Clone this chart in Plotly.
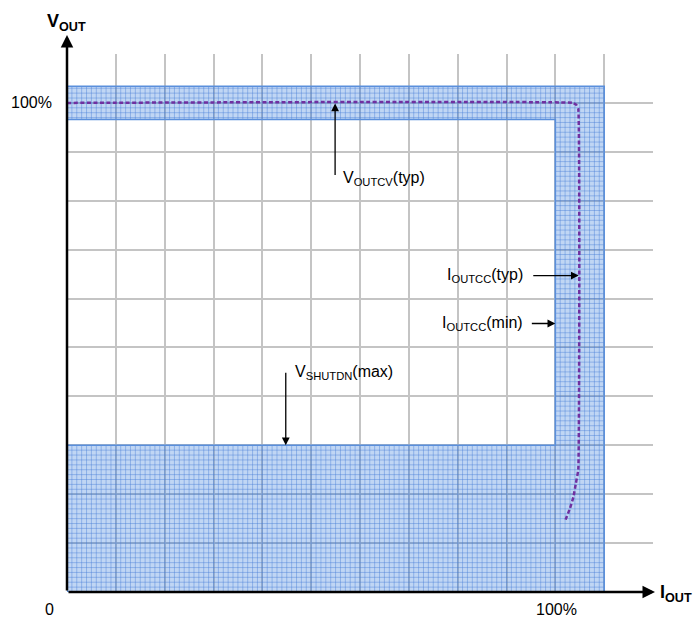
import plotly.graph_objects as go

# ---- data (percent of nominal) ----
x_range = [0, 120]
y_range = [0, 110]
grid_step = 10
minor_step = 1
x_tick_vals = [0, 100]
x_tick_text = ["0", "100%"]
y_tick_vals = [100]
y_tick_text = ["100%"]

VOUTCV_MIN, VOUTCV_MAX = 96.6, 103.4     # CV regulation band
IOUTCC_MIN, IOUTCC_MAX = 100, 110        # CC regulation band
VSHUTDN_MAX = 30                         # shutdown threshold

typ_x = [0, 103.5, 104.3, 104.7, 104.7, 104.2, 103.7, 103.0, 102.1]
typ_y = [100, 100, 99.6, 98.8, 25, 22.2, 19.4, 17.1, 14.8]

FONT = "Liberation Sans, Arial, sans-serif"

fig = go.Figure()

# region polygon
poly_x = [0, IOUTCC_MAX, IOUTCC_MAX, 0, 0, IOUTCC_MIN, IOUTCC_MIN, 0, 0]
poly_y = [0, 0, VOUTCV_MAX, VOUTCV_MAX, VOUTCV_MIN, VOUTCV_MIN, VSHUTDN_MAX, VSHUTDN_MAX, 0]
fig.add_trace(go.Scatter(x=poly_x, y=poly_y, mode="lines", fill="toself",
                         fillcolor="rgba(80,140,225,0.36)",
                         line=dict(color="rgba(0,0,0,0)", width=0),
                         hoverinfo="skip", showlegend=False))

# minor grid inside the region
mx, my = [], []
for k in range(1, int(IOUTCC_MAX / minor_step)):
    x = k * minor_step
    if x < IOUTCC_MIN:
        mx += [x, x, None, x, x, None]
        my += [0, VSHUTDN_MAX, None, VOUTCV_MIN, VOUTCV_MAX, None]
    else:
        mx += [x, x, None]
        my += [0, VOUTCV_MAX, None]
for k in range(1, int(VOUTCV_MAX / minor_step) + 1):
    y = k * minor_step
    if y <= VSHUTDN_MAX or y >= VOUTCV_MIN:
        mx += [0, IOUTCC_MAX, None]
    else:
        mx += [IOUTCC_MIN, IOUTCC_MAX, None]
    my += [y, y, None]
fig.add_trace(go.Scatter(x=mx, y=my, mode="lines",
                         line=dict(color="rgba(70,125,215,0.42)", width=1),
                         hoverinfo="skip", showlegend=False))

# region outline
fig.add_trace(go.Scatter(x=poly_x, y=poly_y, mode="lines",
                         line=dict(color="#5a8fdc", width=1.6),
                         hoverinfo="skip", showlegend=False))

# typical curve
fig.add_trace(go.Scatter(x=typ_x, y=typ_y, mode="lines",
                         line=dict(color="#7030a0", width=2.5, dash="4px,2.5px", shape="spline", smoothing=0.3),
                         hoverinfo="skip", showlegend=False))

ann = []
# axis arrows
ann.append(dict(x=0, y=y_range[1], xref="x", yref="y", yshift=19, ax=0, ay=557,
                text="", showarrow=True, arrowhead=2, arrowsize=1, arrowwidth=2.5,
                arrowcolor="black", standoff=0))
ann.append(dict(x=x_range[1], y=0, xref="x", yref="y", xshift=2, ax=-588, ay=0,
                text="", showarrow=True, arrowhead=2, arrowsize=1, arrowwidth=2.5,
                arrowcolor="black", standoff=0))
# axis titles
ann.append(dict(x=0, y=y_range[1], xref="x", yref="y", yshift=32, xshift=-1,
                text="<b>V<sub>OUT</sub></b>", showarrow=False,
                font=dict(family=FONT, size=18, color="black")))
ann.append(dict(x=x_range[1], y=0, xref="x", yref="y", xanchor="left", xshift=5, yshift=-1,
                text="<b>I<sub>OUT</sub></b>", showarrow=False,
                font=dict(family=FONT, size=18, color="black")))
# tick labels
ann.append(dict(x=x_tick_vals[0], y=0, xref="x", yref="y", xshift=-18, yshift=-17,
                text=x_tick_text[0], showarrow=False, borderpad=0,
                font=dict(family=FONT, size=16, color="black")))
ann.append(dict(x=x_tick_vals[1], y=0, xref="x", yref="y", xshift=1, yshift=-17,
                text=x_tick_text[1], showarrow=False, borderpad=0,
                font=dict(family=FONT, size=16, color="black")))
ann.append(dict(x=0, y=y_tick_vals[0], xref="x", yref="y", xanchor="right", xshift=-13,
                text=y_tick_text[0], showarrow=False, font=dict(family=FONT, size=16, color="black")))

# callout arrows
def arrow(x, y, ax, ay):
    return dict(x=x, y=y, xref="x", yref="y", ax=ax, ay=ay, text="", showarrow=True,
                arrowhead=2, arrowsize=1.2, arrowwidth=1.3, arrowcolor="black", standoff=0)

ann.append(arrow(54.9, 99.9, 0, 73))
ann.append(arrow(44.8, VSHUTDN_MAX, 0, -74))
ann.append(arrow(104.8, 64.7, -47, 0))
ann.append(arrow(IOUTCC_MIN, 54.9, -25, 0))

def label(x, y, text, anchor):
    return dict(x=x, y=y, xref="x", yref="y", text=text, showarrow=False, xanchor=anchor,
                font=dict(family=FONT, size=16, color="black"))

ann.append(label(56.2, 84.5, "V<sub>OUTCV</sub>(typ)", "left"))
ann.append(label(46.2, 44.8, "V<sub>SHUTDN</sub>(max)", "left"))
ann.append(label(93.8, 64.7, "I<sub>OUTCC</sub>(typ)", "right"))
ann.append(label(93.8, 54.9, "I<sub>OUTCC</sub>(min)", "right"))

fig.update_layout(
    width=699, height=618,
    margin=dict(l=67, r=46, t=54, b=26),
    paper_bgcolor="white", plot_bgcolor="white",
    showlegend=False,
    annotations=ann,
    xaxis=dict(range=x_range, dtick=grid_step, tick0=0, showgrid=True, gridcolor="#c4c4c4",
               gridwidth=2, zeroline=False, showticklabels=False, ticks="", showline=False,
               fixedrange=True),
    yaxis=dict(range=y_range, dtick=grid_step, tick0=0, showgrid=True, gridcolor="#c4c4c4",
               gridwidth=2, zeroline=False, showticklabels=False, ticks="", showline=False,
               fixedrange=True),
)

fig.write_html("out.html", config={"displayModeBar": False},
               post_script="document.body.style.margin='0';document.body.style.overflow='hidden';")
